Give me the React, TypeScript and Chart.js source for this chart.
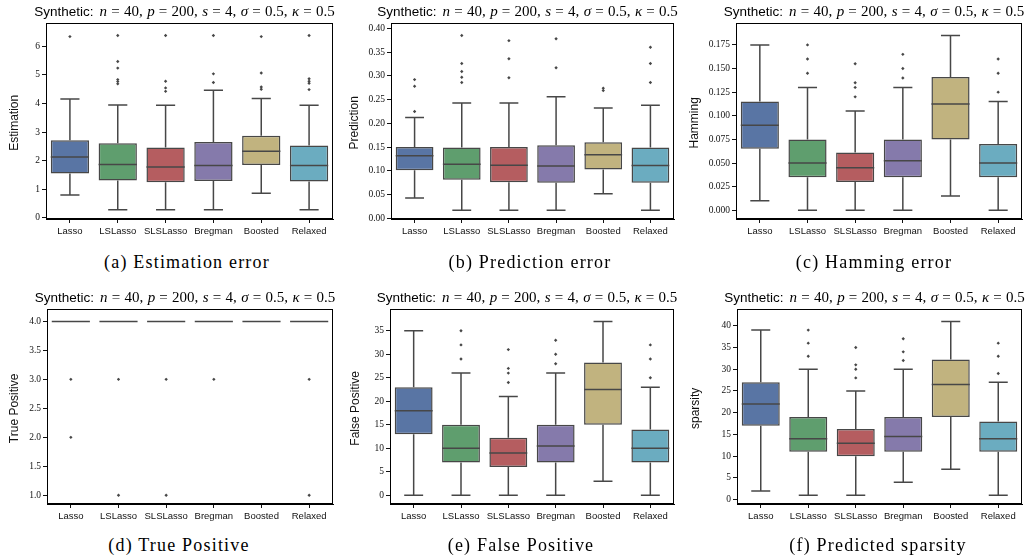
import React, { useEffect, useRef } from "react";
import { Chart, registerables } from "chart.js";
Chart.register(...registerables);

const methods = ["Lasso", "LSLasso", "SLSLasso", "Bregman", "Boosted", "Relaxed"];
const boxColors = ["#5975a4", "#5f9e6e", "#b55d60", "#857aab", "#c1b37f", "#6bacc0"];

// (a) Estimation error
const estLow = [0.8, 0.29, 0.29, 0.29, 0.86, 0.29];
const estQ1 = [1.55, 1.31, 1.25, 1.29, 1.85, 1.27];
const estMed = [2.13, 1.87, 1.78, 1.83, 2.33, 1.83];
const estQ3 = [2.71, 2.61, 2.46, 2.65, 2.87, 2.53];
const estHigh = [4.15, 3.94, 3.93, 4.46, 4.17, 3.93];
const estOut = [[6.33], [6.37, 5.46, 5.23, 4.83, 4.76, 4.68], [6.37, 4.77, 4.54, 4.42], [6.37, 5.03, 4.73], [6.33, 5.06, 4.57, 4.49], [6.37, 4.86, 4.77, 4.7, 4.48]];
const estTicks = [0, 1, 2, 3, 4, 5, 6];

// (b) Prediction error
const preLow = [0.043, 0.017, 0.017, 0.017, 0.052, 0.017];
const preQ1 = [0.101, 0.081, 0.076, 0.075, 0.103, 0.075];
const preMed = [0.132, 0.114, 0.112, 0.11, 0.134, 0.111];
const preQ3 = [0.15, 0.149, 0.15, 0.154, 0.16, 0.149];
const preHigh = [0.212, 0.243, 0.243, 0.256, 0.232, 0.238];
const preOut = [[0.292, 0.278, 0.225], [0.385, 0.326, 0.309, 0.297, 0.286], [0.374, 0.336, 0.296], [0.378, 0.317], [0.274, 0.269], [0.36, 0.326, 0.286]];
const preTicks = [0, 0.05, 0.1, 0.15, 0.2, 0.25, 0.3, 0.35, 0.4];

// (c) Hamming error
const hamLow = [0.01, 0, 0, 0, 0.015, 0];
const hamQ1 = [0.065, 0.035, 0.03, 0.035, 0.075, 0.035];
const hamMed = [0.09, 0.05, 0.045, 0.0525, 0.1125, 0.05];
const hamQ3 = [0.115, 0.075, 0.061, 0.075, 0.141, 0.07];
const hamHigh = [0.175, 0.13, 0.105, 0.13, 0.185, 0.115];
const hamOut = [[], [0.175, 0.16, 0.145], [0.155, 0.135, 0.13, 0.12], [0.165, 0.15, 0.14], [], [0.16, 0.145, 0.125]];
const hamTicks = [0, 0.025, 0.05, 0.075, 0.1, 0.125, 0.15, 0.175];

// (d) True Positive
const tpLow = [4, 4, 4, 4, 4, 4];
const tpQ1 = [4, 4, 4, 4, 4, 4];
const tpMed = [4, 4, 4, 4, 4, 4];
const tpQ3 = [4, 4, 4, 4, 4, 4];
const tpHigh = [4, 4, 4, 4, 4, 4];
const tpOut = [[3, 2], [3, 1], [3, 1], [3], [], [3, 1]];
const tpTicks = [1, 1.5, 2, 2.5, 3, 3.5, 4];

// (e) False Positive
const fpLow = [0, 0, 0, 0, 3, 0];
const fpQ1 = [13, 7, 6, 7, 15, 7];
const fpMed = [18, 10, 9, 10.5, 22.5, 10];
const fpQ3 = [23, 15, 12.25, 15, 28.25, 14];
const fpHigh = [35, 26, 21, 26, 37, 23];
const fpOut = [[], [35, 32, 29], [31, 27, 26, 24], [33, 30, 28], [], [32, 29, 25]];
const fpTicks = [0, 5, 10, 15, 20, 25, 30, 35];

// (f) Predicted sparsity
const spLow = [2, 1, 1, 4, 7, 1];
const spQ1 = [17, 11, 10, 11, 19, 11];
const spMed = [22, 14, 13, 14.5, 26.5, 14];
const spQ3 = [27, 19, 16.25, 19, 32.25, 18];
const spHigh = [39, 30, 25, 30, 41, 27];
const spOut = [[], [39, 36, 33], [35, 31, 30, 28], [37, 34, 32], [], [36, 33, 29]];
const spTicks = [0, 5, 10, 15, 20, 25, 30, 35, 40];

type Stats = { low: number[]; q1: number[]; med: number[]; q3: number[]; high: number[]; out: number[][] };

type PanelDef = {
  stats: Stats;
  ticks: number[];
  dec: number;
  yMin: number;
  yMax: number;
  yTitle: string;
  caption: string;
  L: number; T: number; R: number; B: number; yt: number; capX: number; capY: number;
};

const panels: PanelDef[] = [
  { stats: { low: estLow, q1: estQ1, med: estMed, q3: estQ3, high: estHigh, out: estOut }, ticks: estTicks, dec: 0, yMin: -0.035, yMax: 6.675, yTitle: "Estimation", caption: "(a) Estimation error", L: 46, T: 23, R: 333, B: 219, yt: 14, capX: 187, capY: 262 },
  { stats: { low: preLow, q1: preQ1, med: preMed, q3: preQ3, high: preHigh, out: preOut }, ticks: preTicks, dec: 2, yMin: -0.0014, yMax: 0.4034, yTitle: "Prediction", caption: "(b) Prediction error", L: 391, T: 23, R: 674, B: 219, yt: 354, capX: 530, capY: 262 },
  { stats: { low: hamLow, q1: hamQ1, med: hamMed, q3: hamQ3, high: hamHigh, out: hamOut }, ticks: hamTicks, dec: 3, yMin: -0.00925, yMax: 0.19425, yTitle: "Hamming", caption: "(c) Hamming error", L: 736, T: 23, R: 1022, B: 219, yt: 694, capX: 874, capY: 262 },
  { stats: { low: tpLow, q1: tpQ1, med: tpMed, q3: tpQ3, high: tpHigh, out: tpOut }, ticks: tpTicks, dec: 1, yMin: 0.85, yMax: 4.15, yTitle: "True Positive", caption: "(d) True Positive", L: 47, T: 309, R: 333, B: 504, yt: 14, capX: 179, capY: 545 },
  { stats: { low: fpLow, q1: fpQ1, med: fpMed, q3: fpQ3, high: fpHigh, out: fpOut }, ticks: fpTicks, dec: 0, yMin: -1.85, yMax: 38.85, yTitle: "False Positive", caption: "(e) False Positive", L: 390, T: 309, R: 674, B: 504, yt: 355, capX: 521, capY: 545 },
  { stats: { low: spLow, q1: spQ1, med: spMed, q3: spQ3, high: spHigh, out: spOut }, ticks: spTicks, dec: 0, yMin: -1, yMax: 43, yTitle: "sparsity", caption: "(f) Predicted sparsity", L: 737, T: 309, R: 1022, B: 504, yt: 695, capX: 878, capY: 545 },
];

const LINE = "#474747";

function makeBoxPlugin(st: Stats) {
  return {
    id: "boxlines",
    afterDatasetsDraw(chart: any) {
      const { ctx, scales } = chart;
      const x = scales.x;
      const y = scales.y;
      const meta = chart.getDatasetMeta(0);
      ctx.save();
      ctx.strokeStyle = LINE;
      ctx.lineWidth = 1.5;
      ctx.lineCap = "butt";
      st.med.forEach((m, i) => {
        const el = meta.data[i];
        const w = el && el.width ? el.width : 30;
        const cx = x.getPixelForValue(i);
        const yl = y.getPixelForValue(st.low[i]);
        const y1 = y.getPixelForValue(st.q1[i]);
        const ym = y.getPixelForValue(m);
        const y3 = y.getPixelForValue(st.q3[i]);
        const yh = y.getPixelForValue(st.high[i]);
        ctx.beginPath();
        ctx.moveTo(cx, y3); ctx.lineTo(cx, yh);
        ctx.moveTo(cx, y1); ctx.lineTo(cx, yl);
        ctx.moveTo(cx - w / 4, yh); ctx.lineTo(cx + w / 4, yh);
        ctx.moveTo(cx - w / 4, yl); ctx.lineTo(cx + w / 4, yl);
        ctx.moveTo(cx - w / 2, ym); ctx.lineTo(cx + w / 2, ym);
        ctx.stroke();
      });
      ctx.restore();
    },
  };
}

function MathTitle() {
  const eq = (v: string) => (
    <>
      <span style={{ margin: "0 0.28em" }}>=</span>
      {v}
    </>
  );
  const comma = <span style={{ marginRight: "0.3em" }}>,</span>;
  return (
    <span style={{ fontFamily: '"Liberation Serif", serif', fontSize: 15 }}>
      <i>n</i>{eq("40")}{comma}
      <i>p</i>{eq("200")}{comma}
      <i>s</i>{eq("4")}{comma}
      <i>σ</i>{eq("0.5")}{comma}
      <i>κ</i>{eq("0.5")}
    </span>
  );
}

function Panel({ p }: { p: PanelDef }) {
  const ref = useRef<HTMLCanvasElement>(null);
  const left = Math.round(p.yt - 7);
  const top = p.T - 4;
  const width = p.R - left + 4;
  const height = p.B - top + 24;
  useEffect(() => {
    if (!ref.current) return;
    const st = p.stats;
    const outPts: { x: string; y: number }[] = [];
    st.out.forEach((arr, i) => arr.forEach((v) => outPts.push({ x: methods[i], y: v })));
    const chart = new Chart(ref.current, {
      type: "bar",
      data: {
        labels: methods,
        datasets: [
          {
            type: "bar",
            data: st.q1.map((v, i) => [v, st.q3[i]]) as any,
            backgroundColor: boxColors,
            borderColor: LINE,
            borderWidth: 1.5,
            borderSkipped: false,
            barPercentage: 0.8,
            categoryPercentage: 1,
          } as any,
          {
            type: "line",
            data: outPts as any,
            showLine: false,
            pointStyle: "rectRot",
            pointRadius: 1.7,
            pointBackgroundColor: LINE,
            pointBorderWidth: 0,
          } as any,
        ],
      },
      options: {
        animation: false,
        responsive: false,
        maintainAspectRatio: false,
        layout: { padding: { top: 4, right: 4, left: 0, bottom: 0 } },
        plugins: { legend: { display: false }, tooltip: { enabled: false }, title: { display: false } },
        scales: {
          x: {
            type: "category",
            offset: true,
            grid: { display: true, drawOnChartArea: false, drawTicks: true, tickLength: 4, color: "#111", offset: false },
            border: { display: true, color: "#000", width: 1 },
            ticks: { font: { family: '"Liberation Sans"', size: 9.5 }, color: "#111", padding: 3, maxRotation: 0, autoSkip: false },
            afterFit: (s: any) => { s.height = 24; },
          },
          y: {
            min: p.yMin,
            max: p.yMax,
            grid: { display: true, drawOnChartArea: false, drawTicks: true, tickLength: 4, color: "#111" },
            border: { display: true, color: "#000", width: 1 },
            afterBuildTicks: (s: any) => { s.ticks = p.ticks.map((v) => ({ value: v })); },
            ticks: {
              font: { family: '"Liberation Serif"', size: 9.5 },
              color: "#111",
              padding: 2,
              callback: (v: any) => Number(v).toFixed(p.dec),
            },
            title: { display: true, text: p.yTitle, font: { family: '"Liberation Sans"', size: 12 }, color: "#111", padding: 0 },
            afterFit: (s: any) => { s.width = p.L - left; },
          },
        },
      } as any,
      plugins: [makeBoxPlugin(st) as any],
    });
    return () => chart.destroy();
  }, []);
  return (
    <>
      <canvas ref={ref} width={width} height={height} style={{ position: "absolute", left, top, width, height }} />
      <div style={{ position: "absolute", left: p.L, top: p.T, width: p.R - p.L, height: p.B - p.T, boxSizing: "border-box", border: "1px solid #000", pointerEvents: "none" }} />
      <div style={{ position: "absolute", left: p.L - 45, width: p.R - p.L + 80, top: p.T - 21, height: 18, lineHeight: "18px", textAlign: "center", whiteSpace: "nowrap", color: "#000", fontSize: 13.5 }}>
        <span style={{ fontFamily: '"Liberation Sans", sans-serif', marginRight: "0.45em" }}>Synthetic:</span>
        <MathTitle />
      </div>
      <div style={{ position: "absolute", left: p.capX - 150, width: 300, top: p.capY - 12, height: 24, lineHeight: "24px", textAlign: "center", whiteSpace: "nowrap", fontFamily: '"Liberation Serif", serif', fontSize: 18, letterSpacing: "1.2px", color: "#000" }}>
        {p.caption}
      </div>
    </>
  );
}

export default function App() {
  return (
    <div style={{ position: "absolute", left: 0, top: 0, width: 1027, height: 560, background: "#fff", overflow: "hidden" }}>
      {panels.map((p, i) => (
        <Panel key={i} p={p} />
      ))}
    </div>
  );
}
